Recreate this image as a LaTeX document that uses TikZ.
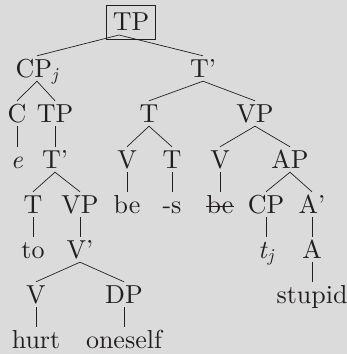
\documentclass[tikz,border=0pt]{standalone}
\usepackage{fontspec}
\setmainfont{lmroman10-regular.otf}[ItalicFont=lmroman10-italic.otf]
\usetikzlibrary{positioning}
\definecolor{PageBG}{HTML}{DBDBDB}
\definecolor{InkDark}{HTML}{231F20}

\begin{document}
\begin{tikzpicture}[x=1pt,y=1pt,
      lbl/.style={inner sep=4pt,text height=17pt,text depth=0pt,text=InkDark,
        font=\fontsize{26}{30}\selectfont},
      rootbox/.style={lbl,draw=InkDark,line width=0.7pt,inner xsep=6pt,inner ysep=8.5pt},
      branch/.style={InkDark,line width=0.7pt}]
    \fill[PageBG] (0,0) rectangle (347,-354);
    \useasboundingbox (0,0) rectangle (347,-354);
    % top of the tree
    \node[rootbox] (tp) at (131,-22) {TP};
    \coordinate (root) at (119,-35);
    \node[lbl] (cpj)  at (37,-68.5)  {CP\textsubscript{\itshape j}};
    \node[lbl] (tbar) at (203,-68.5) {T'};
    \node[lbl] (c)    at (17,-113.5)  {C};
    \node[lbl] (tpa)  at (55,-113.5)  {TP};
    \node[lbl] (t)    at (149,-113.5) {T};
    \node[lbl] (vp)   at (255,-113.5) {VP};
    \node[lbl] (e)     at (17,-159.5)  {\textit{e}};
    \node[lbl] (tbarb) at (55,-159.5)  {T'};
    \node[lbl] (v)     at (127,-159.5) {V};
    \node[lbl] (ta)    at (172,-159.5) {T};
    \node[lbl] (vb)    at (220,-159.5) {V};
    \node[lbl] (ap)    at (290,-159.5) {AP};
    \node[lbl] (tc)       at (33,-204.5)  {T};
    \node[lbl] (vpb)      at (80,-204.5)  {VP};
    \node[lbl] (be)       at (127,-204.5) {be};
    \node[lbl] (s)        at (172,-204.5) {-s};
    \node[lbl] (bestruck) at (220,-204.5) {be};
    \node[lbl] (cp)       at (266,-204.5) {CP};
    \node[lbl] (abar)     at (312,-204.5) {A'};
    \node[lbl] (to)   at (33,-249.5)  {to};
    \node[lbl] (vbar) at (80,-249.5)  {V'};
    \node[lbl] (tj)   at (266,-249.5) {\textit{t}\textsubscript{\itshape j}};
    \node[lbl] (a)    at (312,-249.5) {A};
    \node[lbl] (vc)     at (36,-294.5)  {V};
    \node[lbl] (dp)     at (124,-294.5) {DP};
    \node[lbl] (stupid) at (312,-294.5) {stupid};
    \node[lbl] (hurt)    at (36,-339.5)  {hurt};
    \node[lbl] (oneself) at (124,-339.5) {oneself};
    % strike through the deleted copy
    \draw[branch] ([xshift=4pt,yshift=6.5pt]bestruck.base west) -- ([xshift=-4pt,yshift=6.5pt]bestruck.base east);
    % branches
    \draw[branch] (cpj.north) -- (root) -- (tbar.north);
    \draw[branch] (c.north) -- (cpj.south) -- (tpa.north);
    \draw[branch] (t.north) -- (tbar.south) -- (vp.north);
    \draw[branch] (c) -- (e);
    \draw[branch] (tpa) -- (tbarb);
    \draw[branch] (v.north) -- (t.south) -- (ta.north);
    \draw[branch] (vb.north) -- (vp.south) -- (ap.north);
    \draw[branch] (tc.north) -- (tbarb.south) -- (vpb.north);
    \draw[branch] (v) -- (be);
    \draw[branch] (ta) -- (s);
    \draw[branch] (vb) -- (bestruck);
    \draw[branch] (cp.north) -- (ap.south) -- (abar.north);
    \draw[branch] (tc) -- (to);
    \draw[branch] (vpb) -- (vbar);
    \draw[branch] (cp) -- (tj);
    \draw[branch] (abar) -- (a);
    \draw[branch] (vc.north) -- (vbar.south) -- (dp.north);
    \draw[branch] (a) -- (stupid);
    \draw[branch] (vc) -- (hurt);
    \draw[branch] (dp) -- (oneself);
  \end{tikzpicture}
\end{document}
